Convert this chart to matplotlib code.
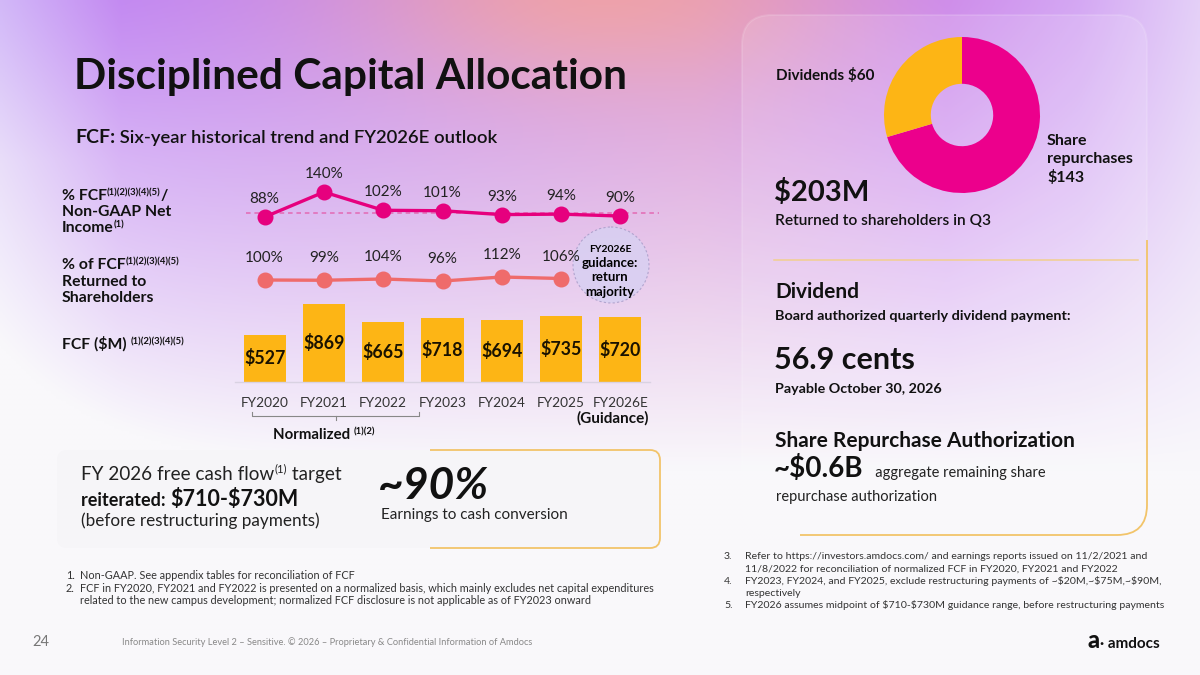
import matplotlib
matplotlib.use("Agg")
import matplotlib.pyplot as plt
import matplotlib.colors as mcolors
import matplotlib.transforms as mtransforms
import numpy as np
from matplotlib.patches import FancyBboxPatch, Circle, Rectangle

plt.rcParams['font.family'] = ['Lato', 'DejaVu Sans']
plt.rcParams['text.parse_math'] = False

# ---- data ----
years = ['FY2020', 'FY2021', 'FY2022', 'FY2023', 'FY2024', 'FY2025', 'FY2026E']
fcf = [527, 869, 665, 718, 694, 735, 720]
fcf_to_ni = [88, 140, 102, 101, 93, 94, 90]
returned_pct = [100, 99, 104, 96, 112, 106]
donut_values = [143, 60]          # share repurchases, dividends ($M, Q3)
donut_colors = ['#ec008c', '#fdb515']

W, H = 1200, 675
fig = plt.figure(figsize=(12, 6.75), dpi=100)
renderer = fig.canvas.get_renderer()

# full-figure axes in pixel coordinates for background and text
bg = fig.add_axes([0, 0, 1, 1])
bg.set_xlim(0, W)
bg.set_ylim(H, 0)
bg.axis('off')

# background gradient: lavender wash fading to white, pink glow at top centre
stops_x = [0.0, 0.1, 0.33, 0.58, 0.79, 0.9, 1.0]
stops_c = ['#d2b8f8', '#c38af2', '#cc92e8', '#d898d8', '#cc8cf0', '#d4a8f4', '#e4d0f8']
rgb = np.array([mcolors.to_rgb(c) for c in stops_c])
px = np.linspace(0, W, 480)
py = np.linspace(0, H, 270)[:, None]
top = np.stack([np.interp(px / W, stops_x, rgb[:, k]) for k in range(3)], axis=-1)[None, :, :]
pink = np.array(mcolors.to_rgb('#f2a4a2'))
w_pink = 0.85 * np.exp(-((px[None, :] - 600) / 230) ** 2 - ((py + 10) / 100) ** 2)
col = top * (1 - w_pink[..., None]) + pink * w_pink[..., None]
t = np.clip((py / 470) ** 1.15 + 0.3 * np.exp(-px[None, :] / 110) * np.clip(py / 160, 0, 1), 0, 1)
white = np.array(mcolors.to_rgb('#f9f8fb'))
img = col * (1 - t[..., None]) + white * t[..., None]
bg.imshow(img, extent=(0, W, H, 0), aspect='auto', zorder=0)


def run(x, y, parts):
    """draw text pieces one after another on a shared baseline"""
    for s, kw in parts:
        kw = dict(kw)
        dy = kw.pop('dy', 0)
        tt = bg.text(x, y + dy, s, va='baseline', ha='left', **kw)
        x = tt.get_window_extent(renderer).x1
    return x


def px_axes(x0, y0, x1, y1):
    return fig.add_axes([x0 / W, 1 - y1 / H, (x1 - x0) / W, (y1 - y0) / H])


# ---- title ----
bg.text(74, 89, 'Disciplined Capital Allocation', fontsize=30.5, fontweight='bold',
        color='#111111', va='baseline')
run(75, 143, [('FCF:', dict(fontsize=14, fontweight='bold', color='#111')),
              (' Six-year historical trend and FY2026E outlook',
               dict(fontsize=13.3, fontweight='semibold', color='#111'))])

# ---- left row labels ----
lab = dict(fontsize=11.3, fontweight='bold', color='#111')
sup = dict(fontsize=6.8, fontweight='bold', color='#111', dy=-5)
run(62, 200, [('% FCF', lab), ('(1)(2)(3)(4)(5)', sup), ('/', lab)])
run(62, 216, [('Non-GAAP Net', lab)])
run(62, 232, [('Income', lab), ('(1)', sup)])
run(62, 269, [('% of FCF', lab), ('(1)(2)(3)(4)(5)', sup)])
run(62, 286, [('Returned to', lab)])
run(62, 302, [('Shareholders', lab)])
run(62, 349, [('FCF ($M) ', lab), ('(1)(2)(3)(4)(5)', sup)])

# ---- bars ----
xi = np.arange(len(years))
axb = px_axes(235, 282, 650, 382)
axb.set_xlim(-0.5, 6.5)
axb.set_ylim(0, 1114)
axb.patch.set_alpha(0)
axb.bar(xi, fcf, width=0.71, color='#fdb515', zorder=2)
for i, v in enumerate(fcf):
    axb.text(i, v / 2, f'${v}', ha='center', va='center', fontsize=12.8,
             fontweight='bold', color='#1a1200', zorder=3)
for s in ['top', 'right', 'left']:
    axb.spines[s].set_visible(False)
axb.spines['bottom'].set_color('#d9d2e2')
axb.spines['bottom'].set_linewidth(1)
axb.set_yticks([])
axb.set_xticks(xi, years)
axb.tick_params(axis='x', length=0, pad=11, labelsize=9.8, labelcolor='#333333')

# ---- line 1: FCF / non-GAAP net income ----
ax1 = px_axes(235, 180, 650, 230)
ax1.set_xlim(-0.5, 6.5)
ax1.set_ylim(60.9, 165.1)
ax1.axis('off')
ax1.plot([-0.32, 6.65], [96, 96], ls=(0, (3, 2.5)), color='#e36ab4', lw=1.1, clip_on=False)
ax1.plot(xi, fcf_to_ni, color='#e6007e', lw=2.4, marker='o', ms=10.5, clip_on=False, zorder=3)
for i, v in enumerate(fcf_to_ni):
    ax1.annotate(f'{v}%', (i, v), xytext=(0, 18), textcoords='offset pixels',
                 ha='center', va='center', fontsize=11, color='#222')

# ---- line 2: % of FCF returned ----
ax2 = px_axes(235, 265, 650, 295)
ax2.set_xlim(-0.5, 6.5)
ax2.set_ylim(40, 160)
ax2.axis('off')
ax2.plot(xi[:len(returned_pct)], returned_pct, color='#ef6b6b', lw=2.4, marker='o',
         ms=10.5, clip_on=False, zorder=3)
for i, v in enumerate(returned_pct):
    ax2.annotate(f'{v}%', (i, v), xytext=(0, 22), textcoords='offset pixels',
                 ha='center', va='center', fontsize=11, color='#222')

# guidance bubble
bg.add_patch(Circle((611, 265), 38, facecolor='#d8d0f2', edgecolor='#a89cc8',
                    ls=(0, (2, 2)), lw=0.8, alpha=0.85, zorder=2))
bg.text(610, 249, 'FY2026E', ha='center', va='center', fontsize=7.5, fontweight='bold', zorder=3)
for yy, s in [(263, 'guidance:'), (277, 'return'), (292, 'majority')]:
    bg.text(610, yy, s, ha='center', va='center', fontsize=9.5, fontweight='bold', zorder=3)

# bracket under the normalized years
tb = mtransforms.blended_transform_factory(axb.transData, bg.transData)
bg.plot([-0.22, -0.22, 2.6, 2.6], [412, 416, 416, 412], color='#888', lw=0.8, transform=tb)
bg.plot([1.2, 1.2], [416, 420], color='#888', lw=0.8, transform=tb)
bg.text(613, 423, '(Guidance)', ha='center', va='baseline', fontsize=11, fontweight='bold', color='#111')
run(273, 439, [('Normalized ', dict(fontsize=10.8, fontweight='bold', color='#111')),
               ('(1)(2)', dict(fontsize=6.8, fontweight='bold', color='#111', dy=-5))])

# ---- bottom-left box ----
box = FancyBboxPatch((57, 450), 603, 98, boxstyle='round,pad=0,rounding_size=10',
                     facecolor='#f6f5f8', edgecolor='none', zorder=1)
bg.add_patch(box)
edge = FancyBboxPatch((57, 450), 603, 98, boxstyle='round,pad=0,rounding_size=10',
                      facecolor='none', edgecolor='#f2c46a', lw=1.3, zorder=2)
bg.add_patch(edge)
edge.set_clip_path(Rectangle((430, 440), 240, 120, transform=bg.transData))

reg = dict(fontsize=13.6, color='#222')
run(81, 480, [('FY 2026 free cash flow', reg),
              ('(1)', dict(fontsize=8, color='#222', dy=-8)),
              (' target', reg)])
run(81, 506, [('reiterated: ', dict(fontsize=13, fontweight='bold', color='#111')),
              ('$710-$730M', dict(fontsize=15.5, fontweight='bold', color='#111'))])
bg.text(81, 526, '(before restructuring payments)', fontsize=12.3, color='#222', va='baseline')
bg.text(378, 499, '~90%', fontsize=32, fontweight='bold', fontstyle='italic',
        color='#111', va='baseline')
bg.text(381, 519, 'Earnings to cash conversion', fontsize=11, color='#222', va='baseline')

# ---- right panel ----
panel = FancyBboxPatch((742, 15), 405, 520, boxstyle='round,pad=0,rounding_size=30',
                       facecolor='white', alpha=0.13, edgecolor='white', lw=1.5, zorder=1)
bg.add_patch(panel)
pedge = FancyBboxPatch((742, 15), 405, 520, boxstyle='round,pad=0,rounding_size=30',
                       facecolor='none', edgecolor='#f2c46a', lw=1.3, zorder=2)
bg.add_patch(pedge)
pedge.set_clip_path(Rectangle((800, 240), 370, 310, transform=bg.transData))
bg.plot([774, 1138], [260, 260], color='#f2cf8e', lw=1.1, zorder=2)

# donut
axd = px_axes(884, 37, 1040, 193)
axd.pie(donut_values, colors=donut_colors, startangle=90, counterclock=False,
        radius=1, wedgeprops=dict(width=0.6, edgecolor='none'))
axd.set_xlim(-1, 1)
axd.set_ylim(-1, 1)
axd.set_aspect('equal')
axd.axis('off')

bg.text(776, 80, f'Dividends ${donut_values[1]}', fontsize=11, fontweight='bold', color='#111', va='baseline')
for yy, s in [(145, 'Share'), (163, 'repurchases'), (182, f'${donut_values[0]}')]:
    bg.text(1047, yy, s, fontsize=11.5, fontweight='bold', color='#111', va='baseline')
bg.text(774, 201, f'${sum(donut_values)}M', fontsize=21, fontweight='bold', color='#111', va='baseline')
bg.text(775, 225, 'Returned to shareholders in Q3', fontsize=11.2, fontweight='semibold',
        color='#111', va='baseline')

bg.text(775, 298, 'Dividend', fontsize=15, fontweight='bold', color='#111', va='baseline')
bg.text(775, 320, 'Board authorized quarterly dividend payment:', fontsize=10.4,
        fontweight='bold', color='#111', va='baseline')
bg.text(774, 369, '56.9 cents', fontsize=22, fontweight='bold', color='#111', va='baseline')
bg.text(775, 393, 'Payable October 30, 2026', fontsize=10.3, fontweight='bold', color='#111', va='baseline')
bg.text(775, 447, 'Share Repurchase Authorization', fontsize=15, fontweight='bold',
        color='#111', va='baseline')
run(774, 477, [('~$0.6B', dict(fontsize=20, fontweight='bold', color='#111')),
               ('   aggregate remaining share', dict(fontsize=10.5, color='#222'))])
bg.text(776, 501, 'repurchase authorization', fontsize=10.5, color='#222', va='baseline')

# ---- footnotes ----
fn = dict(fontsize=7.8, color='#333', va='baseline')
left_notes = [('1.', 'Non-GAAP. See appendix tables for reconciliation of FCF'),
              ('2.', 'FCF in FY2020, FY2021 and FY2022 is presented on a normalized basis, which mainly excludes net capital expenditures'),
              ('', 'related to the new campus development; normalized FCF disclosure is not applicable as of FY2023 onward')]
for k, (n, s) in enumerate(left_notes):
    y = 579 + k * 12.5
    bg.text(66, y, n, **fn)
    bg.text(80, y, s, **fn)
fn_r = dict(fn, fontsize=7.55)
right_notes = [('3.', 'Refer to https://investors.amdocs.com/ and earnings reports issued on 11/2/2021 and'),
               ('', '11/8/2022 for reconciliation of normalized FCF in FY2020, FY2021 and FY2022'),
               ('4.', 'FY2023, FY2024, and FY2025, exclude restructuring payments of ~$20M,~$75M,~$90M,'),
               ('', 'respectively'),
               ('5.', 'FY2026 assumes midpoint of $710-$730M guidance range, before restructuring payments')]
for k, (n, s) in enumerate(right_notes):
    y = 559 + k * 12.3
    bg.text(724, y, n, **fn_r)
    bg.text(745, y, s, **fn_r)

# ---- footer ----
bg.text(32, 646, '24', fontsize=10.5, color='#777', va='baseline')
bg.text(122, 645, 'Information Security Level 2 \u2013 Sensitive. \u00a9 2026 \u2013 Proprietary & Confidential Information of Amdocs',
        fontsize=6.7, color='#888', va='baseline')
run(1088, 648, [('a', dict(fontsize=17, fontweight='black', color='#111')),
                ('\u00b7 amdocs', dict(fontsize=11, fontweight='bold', color='#111'))])

fig.savefig('out.png', dpi=100)
